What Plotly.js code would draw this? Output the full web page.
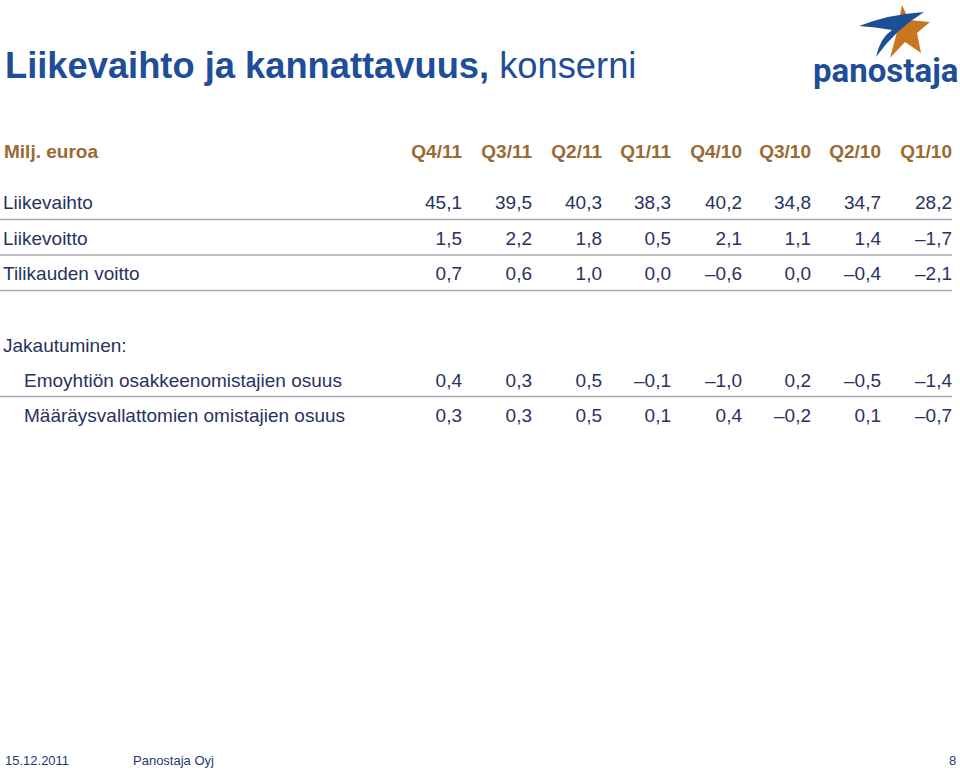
<!DOCTYPE html>
<html>
<head>
<meta charset="utf-8">
<script src="https://cdn.plot.ly/plotly-3.0.1.min.js"></script>
<style>
html,body{margin:0;padding:0;background:#fff;}
#chart{width:960px;height:773px;}
</style>
</head>
<body>
<div id="chart"></div>
<script>
// ---- data ----
const quarters = ['Q4/11','Q3/11','Q2/11','Q1/11','Q4/10','Q3/10','Q2/10','Q1/10'];
const unitLabel = 'Milj. euroa';
const mainRows = ['Liikevaihto','Liikevoitto','Tilikauden voitto'];
const liikevaihto = [45.1, 39.5, 40.3, 38.3, 40.2, 34.8, 34.7, 28.2];
const liikevoitto = [1.5, 2.2, 1.8, 0.5, 2.1, 1.1, 1.4, -1.7];
const tilikaudenVoitto = [0.7, 0.6, 1.0, 0.0, -0.6, 0.0, -0.4, -2.1];
const splitHeader = 'Jakautuminen:';
const splitRows = ['Emoyhtiön osakkeenomistajien osuus','Määräysvallattomien omistajien osuus'];
const emoyhtio = [0.4, 0.3, 0.5, -0.1, -1.0, 0.2, -0.5, -1.4];
const maaraysvallattomat = [0.3, 0.3, 0.5, 0.1, 0.4, -0.2, 0.1, -0.7];

// ---- layout config (positions/styles) ----
const colRight = [462, 532, 602, 671, 742, 811, 881, 952];
const mainRowY = [204.5, 240.5, 275.5];
const splitRowY = [382.5, 417.5];
const headerY = 153, splitHeaderY = 347.5;
const FONT = 'Liberation Sans, Arial, sans-serif';
const navy = '#28325f', brown = '#9a6a33', blue = '#1f4e99', grey = '#a8a8b0';

function fmt(v){
  const s = Math.abs(v).toFixed(1).replace('.', ',');
  return (v < 0 ? '\u2013' : '') + s;
}

const traces = [];
function textTrace(xs, ys, texts, pos, color, size, bold){
  traces.push({
    type:'scatter', mode:'text', x:xs, y:ys,
    text: texts.map(t => bold ? '<b>'+t+'</b>' : t),
    textposition: pos, hoverinfo:'skip', showlegend:false,
    textfont:{family:FONT, size:size, color:color}
  });
}

// header
textTrace([4],[headerY],[unitLabel],'middle right',brown,19,true);
textTrace(colRight, quarters.map(()=>headerY), quarters, 'middle left', brown, 19, true);

// main rows
const mainVals = [liikevaihto, liikevoitto, tilikaudenVoitto];
textTrace(mainRows.map(()=>3), mainRowY, mainRows, 'middle right', navy, 19, false);
mainVals.forEach((vals,i)=>{
  textTrace(colRight, vals.map(()=>mainRowY[i]), vals.map(fmt), 'middle left', navy, 19, false);
});

// split section
textTrace([3],[splitHeaderY],[splitHeader],'middle right',navy,19,false);
const splitVals = [emoyhtio, maaraysvallattomat];
textTrace(splitRows.map(()=>24), splitRowY, splitRows, 'middle right', navy, 19, false);
splitVals.forEach((vals,i)=>{
  textTrace(colRight, vals.map(()=>splitRowY[i]), vals.map(fmt), 'middle left', navy, 19, false);
});

// separator lines
const lineYs = [219.5, 255, 290.5, 396.5];
const shapes = lineYs.map(y => ({type:'line', xref:'x', yref:'y', x0:0, x1:952, y0:y, y1:y,
  line:{color:grey, width:1.5}}));

// logo shapes
shapes.push({type:'path', xref:'x', yref:'y', fillcolor:'#c8761e', line:{width:0},
  path:'M 902 5 L 909 20 L 930 22 L 917 33 L 921 53 L 905 42 L 890 58 L 896 36 Z'});
shapes.push({type:'path', xref:'x', yref:'y', fillcolor:'#1f4e99', line:{width:0},
  path:'M 859 26 Q 890 14 924 12 Q 895 30 876 57 Q 880 38 892 30 Q 875 27 859 26 Z'});

const annotations = [
  {xref:'x', yref:'y', x:3, y:65, xanchor:'left', yanchor:'middle', showarrow:false,
   text:'<b>Liikevaihto ja kannattavuus,</b> konserni',
   font:{family:FONT, size:36.3, color:blue}},
  {xref:'x', yref:'y', x:960, y:70, xanchor:'right', yanchor:'middle', showarrow:false,
   text:'<b>panostaja</b>', font:{family:'Roboto, Liberation Sans, sans-serif', size:33, color:blue}},
  {xref:'x', yref:'y', x:3, y:760, xanchor:'left', yanchor:'middle', showarrow:false,
   text:'15.12.2011', font:{family:'Liberation Sans Narrow, Liberation Sans, Arial', size:13, color:'#1f3a70'}},
  {xref:'x', yref:'y', x:131, y:760, xanchor:'left', yanchor:'middle', showarrow:false,
   text:'Panostaja Oyj', font:{family:'Liberation Sans Narrow, Liberation Sans, Arial', size:13, color:'#1f3a70'}},
  {xref:'x', yref:'y', x:958, y:760, xanchor:'right', yanchor:'middle', showarrow:false,
   text:'8', font:{family:'Liberation Sans Narrow, Liberation Sans, Arial', size:13, color:'#1f3a70'}}
];

const layout = {
  width:960, height:773,
  margin:{l:0,r:0,t:0,b:0},
  paper_bgcolor:'#fff', plot_bgcolor:'#fff',
  xaxis:{range:[0,960], visible:false, fixedrange:true},
  yaxis:{range:[773,0], visible:false, fixedrange:true},
  shapes:shapes, annotations:annotations, showlegend:false
};
Plotly.newPlot('chart', traces, layout, {displayModeBar:false, staticPlot:true});
</script>
</body>
</html>
